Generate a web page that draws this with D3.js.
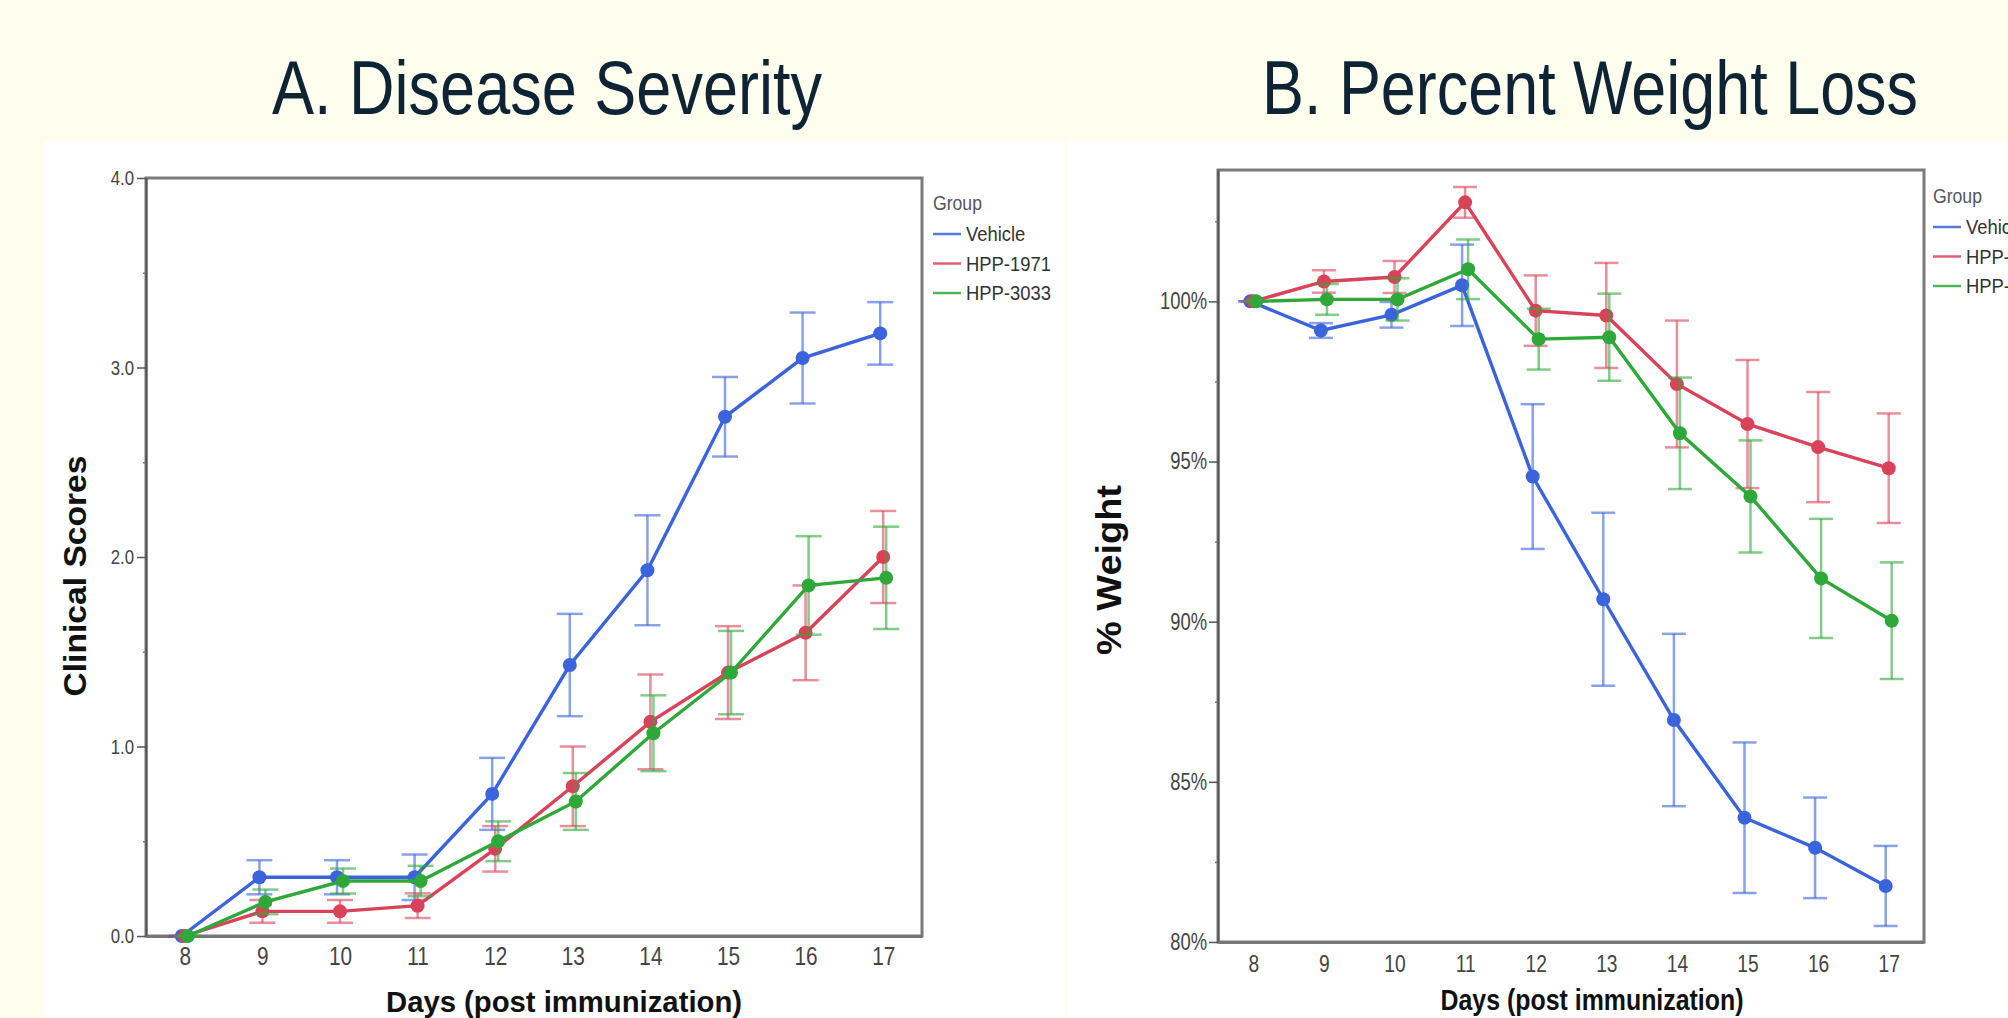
<!DOCTYPE html>
<html>
<head>
<meta charset="utf-8">
<script src="https://cdn.jsdelivr.net/npm/d3@7"></script>
<style>
  html, body { margin: 0; padding: 0; background: #fefeee; }
  svg { display: block; }
</style>
</head>
<body>
<svg id="chart" width="2008" height="1018"></svg>
<script>
// ---- data ----
const days = [8, 9, 10, 11, 12, 13, 14, 15, 16, 17];
const groups = ["Vehicle", "HPP-1971", "HPP-3033"];

// A. clinical scores (mean, +/- error)
const scoreVehicle = [0, 0.31, 0.31, 0.31, 0.75, 1.43, 1.93, 2.74, 3.05, 3.18];
const scoreVehicleErr = [0, 0.09, 0.09, 0.12, 0.19, 0.27, 0.29, 0.21, 0.24, 0.165];
const score1971 = [0, 0.13, 0.13, 0.16, 0.46, 0.79, 1.13, 1.39, 1.6, 2.0];
const score1971Err = [0, 0.06, 0.06, 0.065, 0.12, 0.21, 0.25, 0.245, 0.25, 0.243];
const score3033 = [0, 0.18, 0.29, 0.29, 0.5, 0.71, 1.07, 1.39, 1.85, 1.89];
const score3033Err = [0, 0.065, 0.066, 0.08, 0.105, 0.15, 0.2, 0.22, 0.26, 0.27];

// B. % weight (mean, +/- error)
const weightVehicle = [100, 99.09, 99.58, 100.5, 94.53, 90.7, 86.93, 83.88, 82.94, 81.75];
const weightVehicleErr = [0, 0.23, 0.4, 1.27, 2.26, 2.7, 2.69, 2.35, 1.57, 1.25];
const weight1971 = [100, 100.62, 100.76, 103.09, 99.71, 99.56, 97.42, 96.17, 95.45, 94.79];
const weight1971Err = [0, 0.35, 0.5, 0.48, 1.1, 1.64, 1.98, 2.0, 1.72, 1.71];
const weight3033 = [100, 100.06, 100.06, 101.0, 98.82, 98.88, 95.88, 93.91, 91.35, 90.03];
const weight3033Err = [0, 0.48, 0.66, 0.93, 0.95, 1.36, 1.74, 1.75, 1.86, 1.82];

const scoreTicks = [0, 1, 2, 3, 4];
const scoreMinor = [0.5, 1.5, 2.5, 3.5];
const weightTicks = [80, 85, 90, 95, 100];
const weightMinor = [82.5, 87.5, 92.5, 97.5, 102.5];

const colors = ["#3b63db", "#d8435a", "#2fa83a"];
const NARROW = "'Liberation Sans Narrow','Arial Narrow','Liberation Sans',Arial,sans-serif";
const BOLD = "'Liberation Sans',Arial,sans-serif";

let svg = d3.select("#chart");

// squeeze text horizontally so it looks like a narrow face
let narrow = (sel, f) => {
  sel.each(function () {
    let w = this.getComputedTextLength();
    if (w > 0) d3.select(this).attr("textLength", w * f).attr("lengthAdjust", "spacingAndGlyphs");
  });
};

// white panels
svg.append("rect").attr("x", 45).attr("y", 141).attr("width", 1020).attr("height", 877).attr("fill", "#fff");
svg.append("rect").attr("x", 1068).attr("y", 141).attr("width", 940).attr("height", 877).attr("fill", "#fff");

// headings
svg.append("text").attr("x", 547).attr("y", 114).attr("text-anchor", "middle")
  .attr("textLength", 550).attr("lengthAdjust", "spacingAndGlyphs")
  .style("font-family", NARROW).style("font-size", "76px").attr("fill", "#0e2435")
  .text("A. Disease Severity");
svg.append("text").attr("x", 1590).attr("y", 114).attr("text-anchor", "middle")
  .attr("textLength", 656).attr("lengthAdjust", "spacingAndGlyphs")
  .style("font-family", NARROW).style("font-size", "76px").attr("fill", "#0e2435")
  .text("B. Percent Weight Loss");

let drawPanel = (o) => {
  let g = svg.append("g");
  let x = d3.scaleLinear().domain([7.5, 17.5]).range([o.left, o.right]);
  let y = d3.scaleLinear().domain(o.yDomain).range([o.bottom, o.top]);

  // frame
  g.append("rect")
    .attr("x", o.left).attr("y", o.top)
    .attr("width", o.right - o.left).attr("height", o.bottom - o.top)
    .attr("fill", "none").attr("stroke", "#7a7a7a").attr("stroke-width", 3);

  // y axis
  let yAx = g.append("g").attr("transform", `translate(${o.left},0)`)
    .call(d3.axisLeft(y).tickValues(o.yTicks).tickSize(9).tickSizeOuter(0).tickPadding(o.yPad).tickFormat(o.fmt));
  yAx.select(".domain").attr("stroke", "#555").attr("stroke-width", 2);
  yAx.selectAll(".tick line").attr("stroke", "#555").attr("stroke-width", 1.5);
  yAx.selectAll("text").style("font-family", NARROW).style("font-size", o.yFont + "px").attr("fill", "#444")
    .call(narrow, 0.8);

  let yMin = g.append("g").attr("transform", `translate(${o.left},0)`)
    .call(d3.axisLeft(y).tickValues(o.yMinor).tickSize(3).tickFormat(""));
  yMin.select(".domain").remove();
  yMin.selectAll(".tick line").attr("stroke", "#777").attr("stroke-width", 1.5);

  // x axis (labels only)
  let xAx = g.append("g").attr("transform", `translate(0,${o.bottom})`)
    .call(d3.axisBottom(x).tickValues(days).tickSize(0).tickSizeOuter(0).tickPadding(o.xPad).tickFormat(d3.format("d")));
  xAx.select(".domain").attr("stroke", "#777").attr("stroke-width", 3);
  xAx.selectAll("text").style("font-family", NARROW).style("font-size", o.xFont + "px").attr("fill", "#444")
    .call(narrow, 0.8);

  // axis titles
  g.append("text")
    .attr("transform", `translate(${o.yTitleX},${o.yTitleY}) rotate(-90)`)
    .attr("text-anchor", "middle")
    .attr("textLength", o.yTitleLen).attr("lengthAdjust", "spacingAndGlyphs")
    .style("font-family", BOLD).style("font-weight", "700").style("font-size", o.yTitleFont + "px")
    .attr("fill", "#111").text(o.yTitle);
  g.append("text")
    .attr("x", o.xTitleX).attr("y", o.xTitleY).attr("text-anchor", "middle")
    .attr("textLength", o.xTitleLen).attr("lengthAdjust", "spacingAndGlyphs")
    .style("font-family", NARROW).style("font-weight", "700").style("font-size", o.xTitleFont + "px")
    .attr("fill", "#111").text("Days (post immunization)");

  // series
  let line = d3.line().x(p => p.x).y(p => y(p.v));
  o.series.forEach((s, i) => {
    let off = (i - 1) * 3;
    let pts = days.map((d, j) => ({ x: x(d) + off, v: s.vals[j], e: s.errs[j] }));
    let sg = g.append("g");
    let eb = sg.selectAll("g.eb").data(pts).enter().append("g")
      .attr("stroke", colors[i]).attr("stroke-opacity", 0.6).attr("stroke-width", 2.5);
    eb.append("line").attr("x1", p => p.x).attr("x2", p => p.x)
      .attr("y1", p => y(p.v - p.e)).attr("y2", p => y(p.v + p.e));
    eb.append("line").attr("x1", p => p.x - o.cap).attr("x2", p => p.x + o.cap)
      .attr("y1", p => y(p.v + p.e)).attr("y2", p => y(p.v + p.e));
    eb.append("line").attr("x1", p => p.x - o.cap).attr("x2", p => p.x + o.cap)
      .attr("y1", p => y(p.v - p.e)).attr("y2", p => y(p.v - p.e));
    sg.append("path").datum(pts).attr("d", line)
      .attr("fill", "none").attr("stroke", colors[i]).attr("stroke-width", 3.4);
    sg.selectAll("circle").data(pts).enter().append("circle")
      .attr("cx", p => p.x).attr("cy", p => y(p.v)).attr("r", 7).attr("fill", colors[i]);
  });

  // legend
  let lg = g.append("g");
  lg.append("text").attr("x", o.legX).attr("y", o.legY).attr("dy", "0.35em")
    .style("font-family", NARROW).style("font-size", "20px").attr("fill", "#555").text("Group")
    .call(narrow, 0.88);
  groups.forEach((name, i) => {
    let yy = o.legY + 31 + i * 29.5;
    lg.append("line").attr("x1", o.legX).attr("x2", o.legX + 28).attr("y1", yy).attr("y2", yy)
      .attr("stroke", colors[i]).attr("stroke-width", 2.5).attr("stroke-opacity", 0.85);
    lg.append("text").attr("x", o.legX + 33).attr("y", yy).attr("dy", "0.35em")
      .style("font-family", NARROW).style("font-size", "20px").attr("fill", "#333").text(name)
      .call(narrow, 0.92);
  });
};

drawPanel({
  left: 146, right: 922, top: 178, bottom: 936,
  yDomain: [0, 4], yTicks: scoreTicks, yMinor: scoreMinor, fmt: d3.format(".1f"),
  yFont: 21, yPad: 3, xFont: 26, xPad: 11, cap: 13,
  yTitle: "Clinical Scores", yTitleX: 86, yTitleY: 576, yTitleLen: 241, yTitleFont: 31,
  xTitleX: 564, xTitleY: 1012, xTitleLen: 356, xTitleFont: 30,
  legX: 933, legY: 203,
  series: [
    { vals: scoreVehicle, errs: scoreVehicleErr },
    { vals: score1971, errs: score1971Err },
    { vals: score3033, errs: score3033Err }
  ]
});

drawPanel({
  left: 1218, right: 1924, top: 170, bottom: 942,
  yDomain: [80, 104.1], yTicks: weightTicks, yMinor: weightMinor, fmt: d => d + "%",
  yFont: 23, yPad: 2, xFont: 24, xPad: 13, cap: 12,
  yTitle: "% Weight", yTitleX: 1121, yTitleY: 570, yTitleLen: 170, yTitleFont: 35,
  xTitleX: 1592, xTitleY: 1010, xTitleLen: 303, xTitleFont: 29,
  legX: 1933, legY: 196,
  series: [
    { vals: weightVehicle, errs: weightVehicleErr },
    { vals: weight1971, errs: weight1971Err },
    { vals: weight3033, errs: weight3033Err }
  ]
});
</script>
</body>
</html>
